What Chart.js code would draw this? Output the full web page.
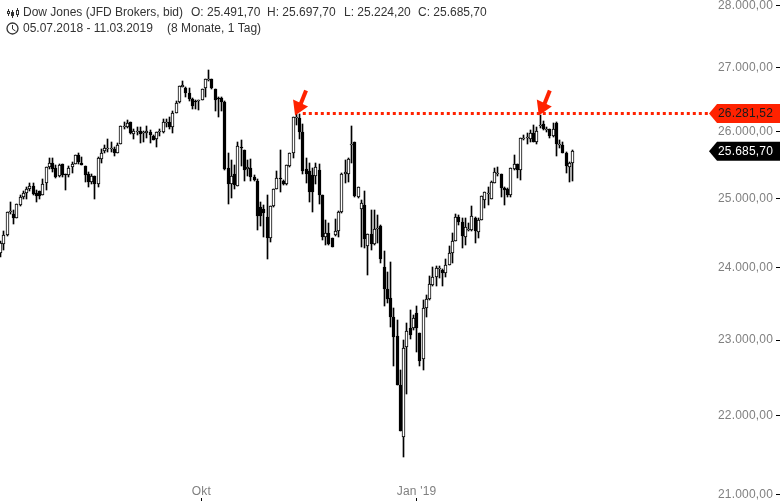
<!DOCTYPE html>
<html lang="de">
<head>
<meta charset="utf-8">
<title>Dow Jones</title>
<script src="https://cdn.jsdelivr.net/npm/chart.js@4/dist/chart.umd.min.js"></script>
<style>
    html, body { margin: 0; padding: 0; background: #fff; }
    canvas { display: block; }
</style>
</head>
<body>
<canvas id="chart" width="780" height="501"></canvas>
<script>
// ========================================
// DATA
// ========================================

const candleOpen = [
    24189,24308,24437,24766,24741,24692,24878,24995,25049,25108,
    25153,25049,25079,25019,25193,25436,25496,25421,25297,25481,
    25327,25322,25431,25481,25616,25501,25456,25327,25208,25302,
    25178,25551,25672,25712,25712,25707,25647,25784,26052,26037,
    26118,25935,25976,25986,25955,25945,25971,25910,25860,25971,
    25961,26113,26123,26037,26259,26424,26670,26648,26569,26470,
    26450,26445,26465,26648,26780,26790,26637,26500,26491,26434,
    25421,25183,25332,25158,25733,25697,25406,25421,25292,25227,
    24839,24815,24702,24393,24859,25108,25272,25227,25178,25451,
    25647,26190,26180,25965,25406,25376,25317,25302,25391,25021,
    24414,24471,24400,24443,24500,24774,25332,25332,25782,25813,
    24992,24817,24875,24286,24457,24314,24535,24571,23980,23670,
    23545,23283,23023,22368,21704,22875,23132,23132,23337,23065,
    22713,23406,23532,23727,23838,23952,23938,23895,24010,24180,
    24357,24695,24634,24410,24510,24510,24682,24482,24662,24948,
    25040,24968,25203,25345,25332,25125,25110,25021,25406,25481,
    25387,25870,25880,25858,25950,25818,26070,26088,26000,26010,
    25900,26098,25782,25775,25652,25436,25491.70
];

const candleHigh = [
    24355,24500,24766,24922,24800,24888,25020,25084,25143,25203,
    25203,25094,25079,25257,25436,25571,25571,25471,25481,25481,
    25327,25451,25511,25616,25652,25581,25456,25361,25332,25302,
    25581,25707,25773,25859,25814,25743,25804,26062,26123,26149,
    26123,26012,26047,26037,25986,26062,26002,25915,25966,26012,
    26166,26166,26192,26285,26445,26680,26764,26670,26648,26491,
    26455,26465,26637,26790,26940,26790,26637,26511,26511,26445,
    25647,25541,25466,25809,25845,25697,25541,25556,25322,25257,
    24912,24878,25024,24859,25108,25381,25697,25242,25466,25647,
    26197,26242,26242,26088,25571,25496,25421,25496,25481,25021,
    24658,24615,24400,24672,24788,25347,25541,25571,26056,25813,
    25140,24948,25080,24457,24803,24803,24730,24586,24215,23910,
    24052,23406,23241,22566,22968,23200,23379,23310,23433,23065,
    23517,23586,23852,23980,23995,23995,23952,24095,24280,24471,
    24745,24725,24682,24682,24610,24857,24705,24682,25006,25070,
    25145,25229,25427,25432,25332,25145,25125,25416,25617,25481,
    25880,25920,25945,25995,26072,26046,26226,26139,26046,26010,
    26098,26124,25843,25818,25667,25510,25697.70
];

const candleLow = [
    24118,24227,24430,24741,24605,24680,24863,24966,24970,25084,
    25024,24912,24956,25019,25094,25401,25356,25267,25282,25282,
    25103,25282,25351,25476,25481,25461,25208,25133,25183,24956,
    25133,25491,25642,25657,25657,25596,25642,25779,26017,26027,
    25940,25865,25925,25794,25809,25870,25794,25845,25733,25910,
    25950,26037,26012,25945,26254,26409,26659,26511,26450,26321,
    26321,26310,26460,26511,26753,26632,26285,26202,26295,25396,
    24883,24985,25108,25148,25456,25222,25307,25222,25222,24513,
    24571,24412,24103,24341,24849,25108,25059,25173,25173,25441,
    25566,26072,25858,25332,25198,24919,24774,25184,24890,24371,
    24300,24300,24272,24428,24414,24760,25198,25213,25496,24992,
    24977,24272,24258,23868,24229,24300,24328,24040,23434,23475,
    23146,22620,22368,21780,21448,22262,22983,23105,22807,22620,
    22566,23283,23517,23712,23712,23824,23712,23838,24010,24040,
    24357,24580,24253,24290,24500,24504,24325,24395,24650,24837,
    24875,24960,25195,25305,24995,24875,24992,24992,25396,25268,
    25243,25843,25790,25818,25808,25790,26025,25995,25970,25880,
    25893,25606,25717,25642,25342,25218,25224.20
];

const candleClose = [
    24318,24437,24766,24790,24692,24888,24995,25049,25108,25153,
    25034,25014,25014,25183,25436,25496,25406,25292,25471,25317,
    25317,25426,25481,25616,25506,25461,25312,25208,25302,25178,
    25571,25647,25717,25722,25722,25647,25773,26057,26062,26103,
    25945,25986,25981,25930,25960,25981,25925,25850,25966,25981,
    26118,26123,26037,26259,26414,26680,26701,26564,26470,26362,
    26445,26460,26632,26790,26790,26648,26460,26495,26429,25401,
    25183,25297,25168,25748,25723,25391,25431,25282,25242,24712,
    24712,24751,24393,24859,25108,25272,25262,25183,25466,25647,
    26197,26196,25965,25376,25332,25065,25065,25436,25021,24414,
    24471,24314,24272,24500,24774,25332,25361,25556,25790,25006,
    25140,24904,24385,24457,24314,24528,24543,24098,23670,23532,
    23283,23010,22368,21780,22862,23092,23037,23269,23132,22687,
    23406,23532,23740,23838,23966,23966,23895,24010,24180,24357,
    24702,24625,24418,24552,24520,24712,24490,24658,25006,25060,
    25048,25209,25357,25352,25129,25090,25021,25416,25488,25387,
    25870,25880,25888,25945,25818,25990,26080,26010,26010,25908,
    26020,25785,25790,25647,25455,25491,25685.70
];

const priceTicks = [21000, 22000, 23000, 24000, 25000, 26000, 27000, 28000];
const timeTicks = [61.8, 128];
const timeTickLabels = ['Okt', "Jan '19"];

// resistance line: where it sits on the axis, and what its tag says
const resistanceLevel = 26250;
const resistanceLabel = 26281.52;
const resistanceFrom = 93;
const resistanceTo = 218;
const arrowCandles = [90, 165];

const lastPrice = 25685.70;

// ========================================
// HELPERS
// ========================================

const RED = '#ff2200';
const FONT = "12px 'Liberation Sans', Arial, sans-serif";
const AXIS_SPACING = '0.18px';

function formatPrice(value) {
    return value.toLocaleString('de-DE', { minimumFractionDigits: 2, maximumFractionDigits: 2 });
}

const wicks = candleHigh.map((high, i) => ({ x: i, y: [candleLow[i], high] }));
const bodies = candleOpen.map((open, i) => ({
    x: i,
    y: [Math.min(open, candleClose[i]), Math.max(open, candleClose[i])]
}));
const bodyFill = candleOpen.map((open, i) => candleClose[i] >= open ? '#ffffff' : '#000000');

// Axes sit on top of the plot, so they must not reserve any room for labels
function noLabelPadding(scale) {
    scale.paddingTop = 0;
    scale.paddingBottom = 0;
    scale.paddingLeft = 0;
    scale.paddingRight = 0;
}

// Axis marks in the original sit 1px lower and the labels are a touch wider
function nudgeAxis(scale) {
    const { ctx } = scale;
    const drawLabels = scale.drawLabels.bind(scale);
    const drawGrid = scale.drawGrid.bind(scale);
    scale.drawLabels = area => {
        ctx.save();
        ctx.translate(0, 1);
        ctx.letterSpacing = AXIS_SPACING;
        drawLabels(area);
        ctx.restore();
    };
    scale.drawGrid = area => {
        ctx.save();
        ctx.translate(0, 1);
        drawGrid(area);
        ctx.restore();
    };
}

// ========================================
// PLUGINS
// ========================================

// Bars land on fractional pixels, snap them so candles stay crisp
const snapBars = {
    id: 'snapBars',
    beforeDatasetsDraw(chart) {
        chart.getSortedVisibleDatasetMetas().forEach(meta => {
            if (meta.type !== 'bar') return;
            meta.data.forEach(el => {
                el.x = Math.floor(el.x) + 0.5;
                el.y = Math.round(el.y);
                el.base = Math.round(el.base);
                if (el.y === el.base) el.base = el.y + 1;
            });
        });
    }
};

function drawTag(ctx, y, fill, textColor, text) {
    ctx.fillStyle = fill;
    ctx.beginPath();
    ctx.moveTo(709, y);
    ctx.lineTo(717, y - 9.5);
    ctx.lineTo(780, y - 9.5);
    ctx.lineTo(780, y + 9.5);
    ctx.lineTo(717, y + 9.5);
    ctx.closePath();
    ctx.fill();
    ctx.fillStyle = textColor;
    ctx.font = FONT;
    ctx.letterSpacing = AXIS_SPACING;
    ctx.textAlign = 'right';
    ctx.textBaseline = 'middle';
    ctx.fillText(text, 773, y + 0.5);
    ctx.letterSpacing = '0px';
}

function drawArrow(ctx, x, y) {
    // (x, y) is the tip, the arrow comes in from the upper right
    ctx.fillStyle = RED;
    ctx.strokeStyle = RED;
    ctx.beginPath();
    ctx.moveTo(x, y);
    ctx.lineTo(x - 2, y - 16);
    ctx.lineTo(x + 13, y - 9);
    ctx.closePath();
    ctx.fill();
    ctx.lineWidth = 4;
    ctx.beginPath();
    ctx.moveTo(x + 11, y - 25);
    ctx.lineTo(x + 5, y - 10);
    ctx.stroke();
}

function drawHeaderIcons(ctx) {
    ctx.strokeStyle = '#333333';
    ctx.fillStyle = '#333333';
    ctx.lineWidth = 1;
    [[8, 11, 14, false], [12, 12, 16, true], [17, 10, 15, false]].forEach(([x, top, bottom, filled]) => {
        ctx.beginPath();
        ctx.moveTo(x + 0.5, top - 2);
        ctx.lineTo(x + 0.5, bottom + 2);
        ctx.stroke();
        if (filled) {
            ctx.fillRect(x - 1, top, 3, bottom - top);
        } else {
            ctx.clearRect(x - 1, top, 3, bottom - top);
            ctx.strokeRect(x - 0.5, top + 0.5, 2, bottom - top - 1);
        }
    });

    ctx.lineWidth = 1.3;
    ctx.beginPath();
    ctx.arc(12.5, 28.5, 5.5, 0, Math.PI * 2);
    ctx.stroke();
    ctx.lineWidth = 1;
    ctx.beginPath();
    ctx.moveTo(12.5, 25);
    ctx.lineTo(12.5, 29);
    ctx.lineTo(15.5, 31);
    ctx.stroke();
}

const overlays = {
    id: 'overlays',
    afterDraw(chart) {
        const { ctx, scales } = chart;
        ctx.save();

        const levelY = scales.y.getPixelForValue(resistanceLevel);
        drawTag(ctx, levelY, RED, '#1a1a1a', formatPrice(resistanceLabel));
        drawTag(ctx, scales.y.getPixelForValue(lastPrice) + 0.6, '#000000', '#ffffff', formatPrice(lastPrice));

        arrowCandles.forEach(i => {
            drawArrow(ctx, scales.x.getPixelForValue(i) + 2, levelY + 2);
        });

        drawHeaderIcons(ctx);
        ctx.fillStyle = '#333333';
        ctx.font = FONT;
        ctx.textAlign = 'left';
        ctx.textBaseline = 'middle';
        ctx.fillText('Dow Jones (JFD Brokers, bid)', 23, 13);
        ctx.fillText('O: 25.491,70', 191, 13);
        ctx.fillText('H: 25.697,70', 267, 13);
        ctx.fillText('L: 25.224,20', 344, 13);
        ctx.fillText('C: 25.685,70', 418, 13);
        ctx.fillText('05.07.2018 - 11.03.2019', 23, 29);
        ctx.fillText('(8 Monate, 1 Tag)', 167, 29);

        ctx.restore();
    }
};

// ========================================
// CHART
// ========================================

new Chart(document.getElementById('chart'), {
    type: 'bar',
    data: {
        datasets: [
            {
                type: 'line',
                data: [
                    { x: resistanceFrom, y: resistanceLevel },
                    { x: resistanceTo, y: resistanceLevel }
                ],
                borderColor: RED,
                borderWidth: 3,
                borderDash: [3, 3],
                pointRadius: 0,
                order: 0
            },
            {
                data: bodies,
                backgroundColor: bodyFill,
                borderColor: '#000000',
                borderWidth: 1,
                borderSkipped: false,
                barThickness: 3,
                grouped: false,
                order: 1
            },
            {
                data: wicks,
                backgroundColor: '#000000',
                borderWidth: 0,
                barThickness: 1,
                grouped: false,
                order: 2
            }
        ]
    },
    options: {
        responsive: false,
        animation: false,
        layout: { padding: 0 },
        plugins: {
            legend: { display: false },
            tooltip: { enabled: false }
        },
        scales: {
            x: {
                type: 'linear',
                offset: false,
                min: -0.17,
                max: 238.6,
                afterBuildTicks(scale) {
                    scale.ticks = timeTicks.map(value => ({ value }));
                },
                afterFit(scale) {
                    scale.height = 4;
                    noLabelPadding(scale);
                },
                afterUpdate: nudgeAxis,
                border: { display: false },
                grid: { offset: false, drawOnChartArea: false, tickLength: 3, tickColor: '#000000' },
                ticks: {
                    autoSkip: false,
                    maxRotation: 0,
                    mirror: true,
                    padding: -1,
                    color: '#808080',
                    font: { family: "'Liberation Sans'", size: 12 },
                    callback: value => timeTickLabels[timeTicks.indexOf(value)]
                }
            },
            y: {
                type: 'logarithmic',
                position: 'right',
                min: 20946,
                max: 28066,
                afterBuildTicks(scale) {
                    scale.ticks = priceTicks.map(value => ({ value }));
                },
                afterFit(scale) {
                    scale.width = 4;
                    noLabelPadding(scale);
                },
                afterUpdate: nudgeAxis,
                border: { display: false },
                grid: { drawOnChartArea: false, tickLength: 4, tickColor: '#000000' },
                ticks: {
                    autoSkip: false,
                    mirror: true,
                    padding: -3,
                    color: '#808080',
                    font: { family: "'Liberation Sans'", size: 12 },
                    callback: value => formatPrice(value)
                }
            }
        }
    },
    plugins: [snapBars, overlays]
});
</script>
</body>
</html>
